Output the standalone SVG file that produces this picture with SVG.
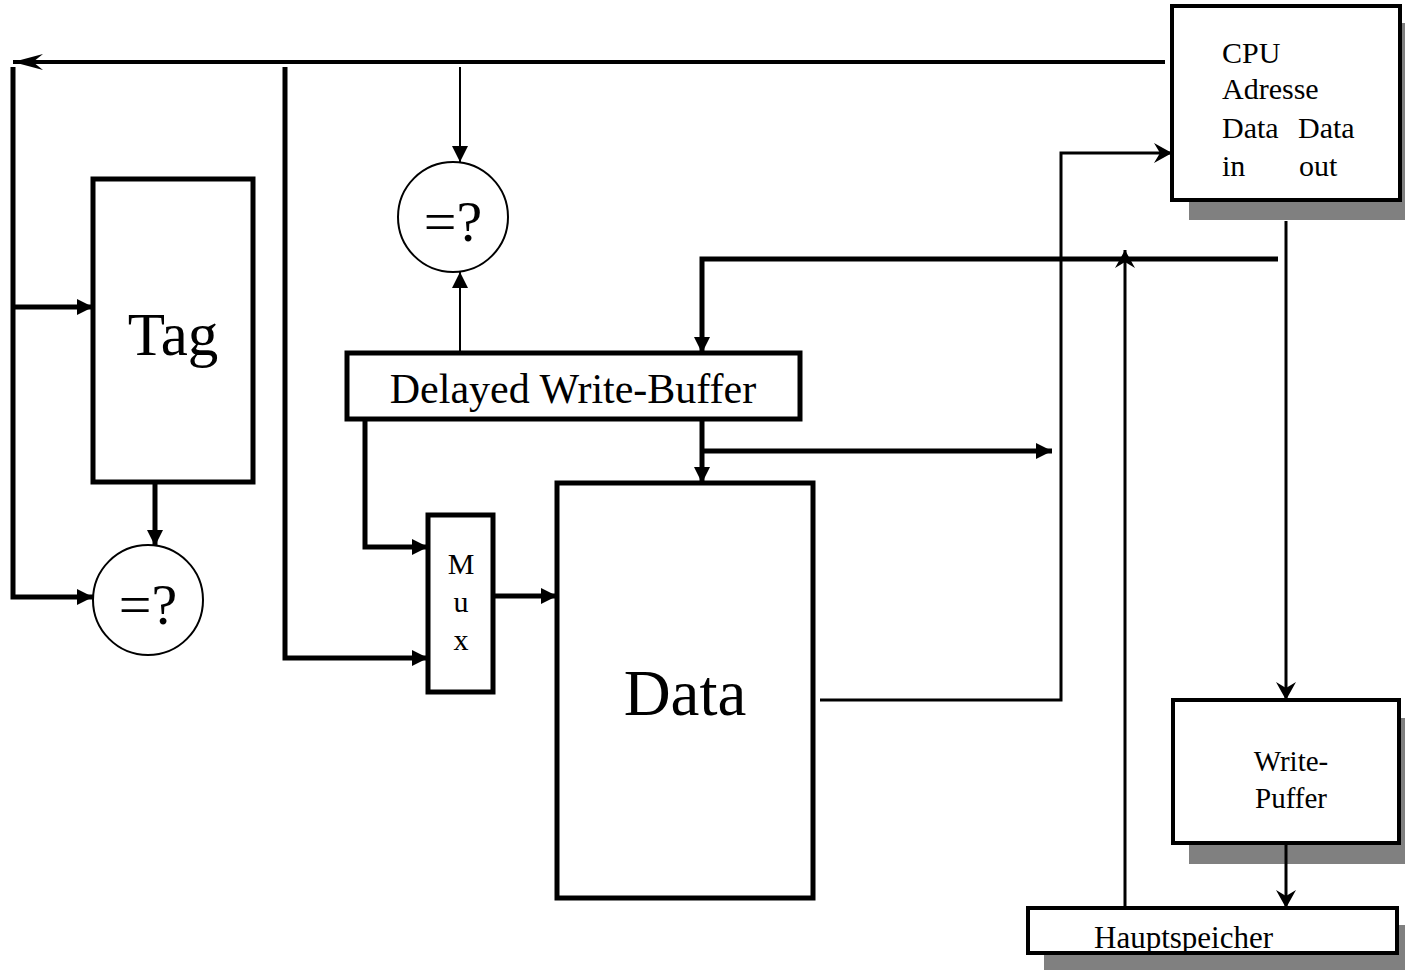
<svg xmlns="http://www.w3.org/2000/svg" width="1405" height="971" viewBox="0 0 1405 971">
  <style>
    .txt { font-family: "Liberation Serif", "Times New Roman", serif; fill: #000; }
    .box { fill: #fff; stroke: #000; stroke-width: 5; }
    .box4 { fill: #fff; stroke: #000; stroke-width: 4; }
    .shadow { fill: #808080; stroke: none; }
    .circ { fill: #fff; stroke: #000; stroke-width: 2; }
    .w5 { fill: none; stroke: #000; stroke-width: 5; }
    .w4 { fill: none; stroke: #000; stroke-width: 4; }
    .w3 { fill: none; stroke: #000; stroke-width: 3; }
    .w2 { fill: none; stroke: #000; stroke-width: 2; }
  </style>
  <defs>
    <marker id="tri" viewBox="0 0 16 16" refX="16" refY="8" markerWidth="16" markerHeight="16" markerUnits="userSpaceOnUse" orient="auto">
      <path d="M0,0 L16,8 L0,16 z" fill="#000"/>
    </marker>
    <marker id="stealth" viewBox="0 0 18 20" refX="18" refY="10" markerWidth="18" markerHeight="20" markerUnits="userSpaceOnUse" orient="auto">
      <path d="M0,0 L18,10 L0,20 L6,10 z" fill="#000"/>
    </marker>
    <marker id="stealthLong" viewBox="0 0 30 16" refX="30" refY="8" markerWidth="30" markerHeight="16" markerUnits="userSpaceOnUse" orient="auto">
      <path d="M0,0 L30,8 L0,16 L10,8 z" fill="#000"/>
    </marker>
  </defs>

  <g id="cpu">
    <rect class="shadow" x="1189" y="23" width="230" height="197"/>
    <rect class="box4" x="1172" y="6" width="228" height="194"/>
    <text class="txt" font-size="30" x="1222" y="63">CPU</text>
    <text class="txt" font-size="30" x="1222" y="99">Adresse</text>
    <text class="txt" font-size="30" x="1222" y="138">Data</text>
    <text class="txt" font-size="30" x="1298" y="138">Data</text>
    <text class="txt" font-size="30" x="1222" y="176">in</text>
    <text class="txt" font-size="30" x="1299" y="176">out</text>
  </g>

  <g id="tag">
    <rect class="box" x="93" y="179" width="160" height="303"/>
    <text class="txt" font-size="61" x="173" y="355" text-anchor="middle">Tag</text>
  </g>

  <g id="cmp-tag">
    <circle class="circ" cx="148" cy="600" r="55"/>
    <text class="txt" font-size="58" x="148" y="624" text-anchor="middle">=?</text>
  </g>

  <g id="cmp-buffer">
    <circle class="circ" cx="453" cy="217" r="55"/>
    <text class="txt" font-size="58" x="453" y="241" text-anchor="middle">=?</text>
  </g>

  <g id="delayed-write-buffer">
    <rect class="box" x="347" y="353" width="453" height="66"/>
    <text class="txt" font-size="42" x="573" y="403" text-anchor="middle">Delayed Write-Buffer</text>
  </g>

  <g id="mux">
    <rect class="box" x="428" y="515" width="65" height="177"/>
    <text class="txt" font-size="30" x="461" y="574" text-anchor="middle">M</text>
    <text class="txt" font-size="30" x="461" y="612" text-anchor="middle">u</text>
    <text class="txt" font-size="30" x="461" y="650" text-anchor="middle">x</text>
  </g>

  <g id="data">
    <rect class="box" x="557" y="483" width="256" height="415"/>
    <text class="txt" font-size="65" x="685" y="715" text-anchor="middle">Data</text>
  </g>

  <g id="write-puffer">
    <rect class="shadow" x="1189" y="718" width="230" height="146"/>
    <rect class="box4" x="1173" y="700" width="226" height="143"/>
    <text class="txt" font-size="29" x="1291" y="771" text-anchor="middle">Write-</text>
    <text class="txt" font-size="29" x="1291" y="808" text-anchor="middle">Puffer</text>
  </g>

  <g id="hauptspeicher">
    <rect class="shadow" x="1044" y="925" width="375" height="45"/>
    <rect class="box4" x="1028" y="908" width="369" height="45"/>
    <text class="txt" font-size="31" x="1094" y="948">Hauptspeicher</text>
  </g>

  <g id="connectors">
    <path class="w4" d="M1165,62 L13,62" marker-end="url(#stealthLong)"/>
    <path class="w5" d="M13,67 L13,597 L93,597" marker-end="url(#tri)"/>
    <path class="w5" d="M13,307 L93,307" marker-end="url(#tri)"/>
    <path class="w5" d="M155,482 L155,546" marker-end="url(#tri)"/>
    <path class="w5" d="M285,67 L285,658 L428,658" marker-end="url(#tri)"/>
    <path class="w2" d="M460,67 L460,162" marker-end="url(#tri)"/>
    <path class="w2" d="M460,353 L460,272" marker-end="url(#tri)"/>
    <path class="w5" d="M365,419 L365,547 L428,547" marker-end="url(#tri)"/>
    <path class="w5" d="M493,596 L557,596" marker-end="url(#tri)"/>
    <path class="w5" d="M702,419 L702,483" marker-end="url(#tri)"/>
    <path class="w5" d="M702,451 L1052,451" marker-end="url(#tri)"/>
    <path class="w5" d="M1278,259 L702,259 L702,353" marker-end="url(#tri)"/>
    <path class="w3" d="M820,700 L1061,700 L1061,153 L1172,153" marker-end="url(#stealth)"/>
    <path class="w3" d="M1125,908 L1125,250" marker-end="url(#stealth)"/>
    <path class="w3" d="M1286,221 L1286,700" marker-end="url(#stealth)"/>
    <path class="w3" d="M1286,843 L1286,908" marker-end="url(#stealth)"/>
  </g>
</svg>
